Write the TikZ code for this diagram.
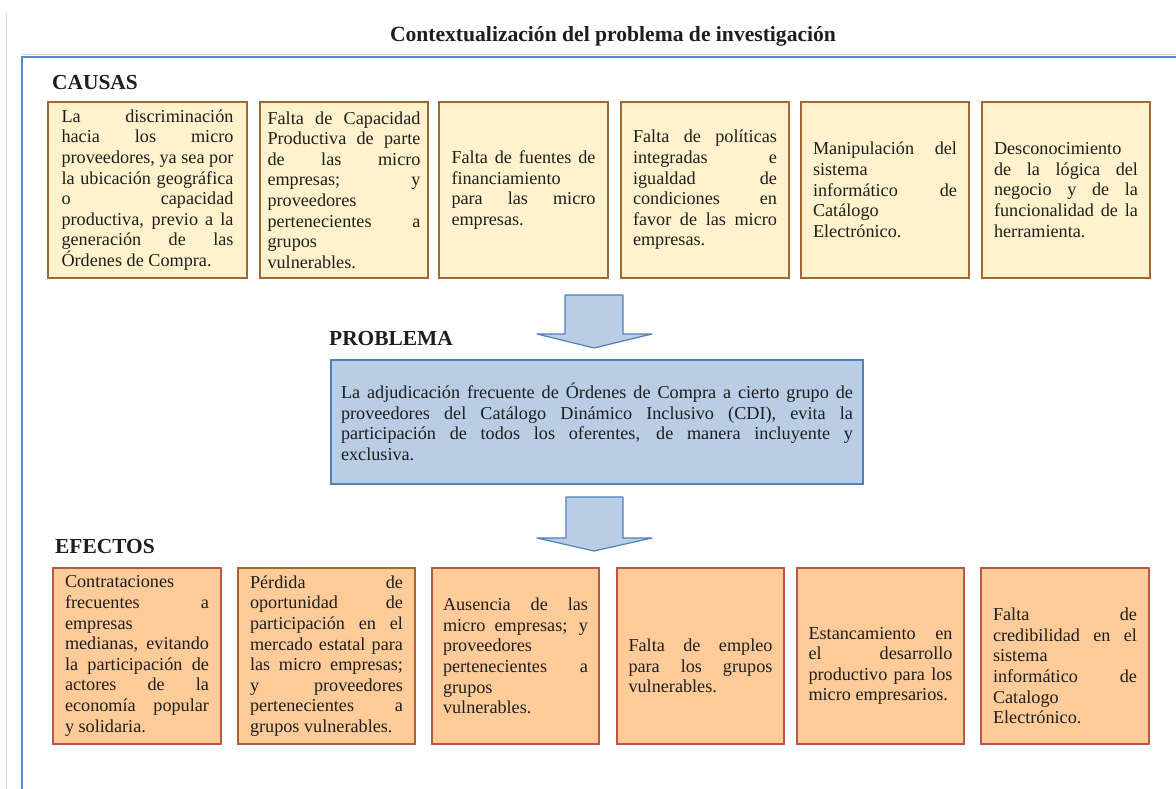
\documentclass[tikz,border=0pt]{standalone}
\usepackage{fontspec}
\setmainfont{Liberation Serif}
\definecolor{causefill}{HTML}{FFF2CC}
\definecolor{causeborder}{RGB}{160,104,50}
\definecolor{efffill}{HTML}{FFCC99}
\definecolor{effborder}{RGB}{190,85,70}
\definecolor{effborderb}{RGB}{170,100,55}
\definecolor{probfill}{HTML}{B9CDE5}
\definecolor{probborder}{HTML}{4F81BD}
\definecolor{framecol}{RGB}{95,135,195}
\definecolor{txt}{RGB}{30,30,30}
\newcommand\JLine[1]{\hbox to\hsize{#1}}
\newcommand\ELine[1]{\hbox to\hsize{#1\hfil}}
\tikzset{
  box/.style={inner sep=0pt, line width=1.3pt, text=txt, font=\fontsize{18.2}{20.6}\selectfont},
  causebox/.style={box, draw=causeborder, fill=causefill, minimum height=176pt},
  effectbox/.style={box, draw=effborder, fill=efffill, minimum height=176pt},
  probbox/.style={box, draw=probborder, fill=probfill},
  lbl/.style={font=\bfseries\fontsize{21.4}{24}\selectfont, text=txt, inner sep=0pt, anchor=base west},
  blockarrow/.style={draw=probborder, fill=probfill, line width=1.2pt, line join=round},
  frameline/.style={draw=framecol, line width=1.6pt},
}
\begin{document}
\begin{tikzpicture}[x=1pt,y=-1pt]
\useasboundingbox[fill=white] (0,0) rectangle (1176,789);
% frame
\draw[black!15, line width=1pt] (6,13) -- (6,789);
\draw[black!18, line width=1pt] (22,55) -- (1176,55);
\draw[frameline] (22,789) -- (22,57) -- (1176,57);
% title and labels
\node[font=\bfseries\fontsize{21.6}{24}\selectfont, text=txt, inner sep=0pt, anchor=base] (title) at (613,42) {Contextualización del problema de investigación};
\node[lbl] (causas) at (52,90) {CAUSAS};
\node[lbl] (problema) at (329,345) {PROBLEMA};
\node[lbl] (efectos) at (55,553) {EFECTOS};
% causes
\node[causebox, minimum width=199pt] (c1) at (147.5,190) {\vbox{\hsize=172pt
\JLine{La discriminación}
\JLine{hacia los micro}
\JLine{proveedores, ya sea por}
\JLine{la ubicación geográfica}
\JLine{o capacidad}
\JLine{productiva, previo a la}
\JLine{generación de las}
\ELine{Órdenes de Compra.}}};
\node[causebox, minimum width=168pt] (c2) at (344,190) {\vbox{\hsize=153pt
\JLine{Falta de Capacidad}
\JLine{Productiva de parte}
\JLine{de las micro}
\JLine{empresas; y}
\ELine{proveedores}
\JLine{pertenecientes a}
\ELine{grupos}
\ELine{vulnerables.}}};
\node[causebox, minimum width=169pt] (c3) at (523.5,190) {\vbox{\hsize=144pt
\JLine{Falta de fuentes de}
\ELine{financiamiento}
\JLine{para las micro}
\ELine{empresas.}}};
\node[causebox, minimum width=168pt] (c4) at (705,190) {\vbox{\hsize=144pt
\JLine{Falta de políticas}
\JLine{integradas e}
\JLine{igualdad de}
\JLine{condiciones en}
\JLine{favor de las micro}
\ELine{empresas.}}};
\node[causebox, minimum width=168pt] (c5) at (885,190) {\vbox{\hsize=144pt
\JLine{Manipulación del}
\ELine{sistema}
\JLine{informático de}
\ELine{Catálogo}
\ELine{Electrónico.}}};
\node[causebox, minimum width=168pt] (c6) at (1066,190) {\vbox{\hsize=144pt
\ELine{Desconocimiento}
\JLine{de la lógica del}
\JLine{negocio y de la}
\JLine{funcionalidad de la}
\ELine{herramienta.}}};
% arrow 1
\draw[blockarrow] (565,295) -- (623,295) -- (623,334) -- (652,334) -- (594,348) -- (537,334) -- (565,334) -- cycle;
% problem
\node[probbox, minimum width=532pt, minimum height=124pt] (p) at (597,422) {\vbox{\hsize=512pt
\JLine{La adjudicación frecuente de Órdenes de Compra a cierto grupo de}
\JLine{proveedores del Catálogo Dinámico Inclusivo (CDI), evita la}
\JLine{participación de todos los oferentes, de manera incluyente y}
\ELine{exclusiva.}}};
% arrow 2
\draw[blockarrow] (566,497) -- (623,497) -- (623,538) -- (652,538) -- (594,551) -- (537,538) -- (566,538) -- cycle;
% effects
\node[effectbox, minimum width=168pt] (e1) at (137,656) {\vbox{\hsize=144pt
\ELine{Contrataciones}
\JLine{frecuentes a}
\ELine{empresas}
\JLine{medianas, evitando}
\JLine{la participación de}
\JLine{actores de la}
\JLine{economía popular}
\ELine{y solidaria.}}};
\node[effectbox, draw=effborderb, minimum width=177pt] (e2) at (326.5,656) {\vbox{\hsize=153pt
\JLine{Pérdida de}
\JLine{oportunidad de}
\JLine{participación en el}
\JLine{mercado estatal para}
\JLine{las micro empresas;}
\JLine{y proveedores}
\JLine{pertenecientes a}
\ELine{grupos vulnerables.}}};
\node[effectbox, minimum width=167pt] (e3) at (515.5,656) {\vbox{\hsize=145pt
\JLine{Ausencia de las}
\JLine{micro empresas; y}
\ELine{proveedores}
\JLine{pertenecientes a}
\ELine{grupos}
\ELine{vulnerables.}}};
\node[effectbox, minimum width=167pt] (e4) at (700.5,656) {\vbox{\hsize=144pt\kern20pt
\JLine{Falta de empleo}
\JLine{para los grupos}
\ELine{vulnerables.}}};
\node[effectbox, minimum width=167pt] (e5) at (880.5,656) {\vbox{\hsize=144pt\kern20pt
\JLine{Estancamiento en}
\JLine{el desarrollo}
\JLine{productivo para los}
\ELine{micro empresarios.}}};
\node[effectbox, minimum width=168pt] (e6) at (1065,656) {\vbox{\hsize=144pt\kern20pt
\JLine{Falta de}
\JLine{credibilidad en el}
\ELine{sistema}
\JLine{informático de}
\ELine{Catalogo}
\ELine{Electrónico.}}};
\end{tikzpicture}
\end{document}
